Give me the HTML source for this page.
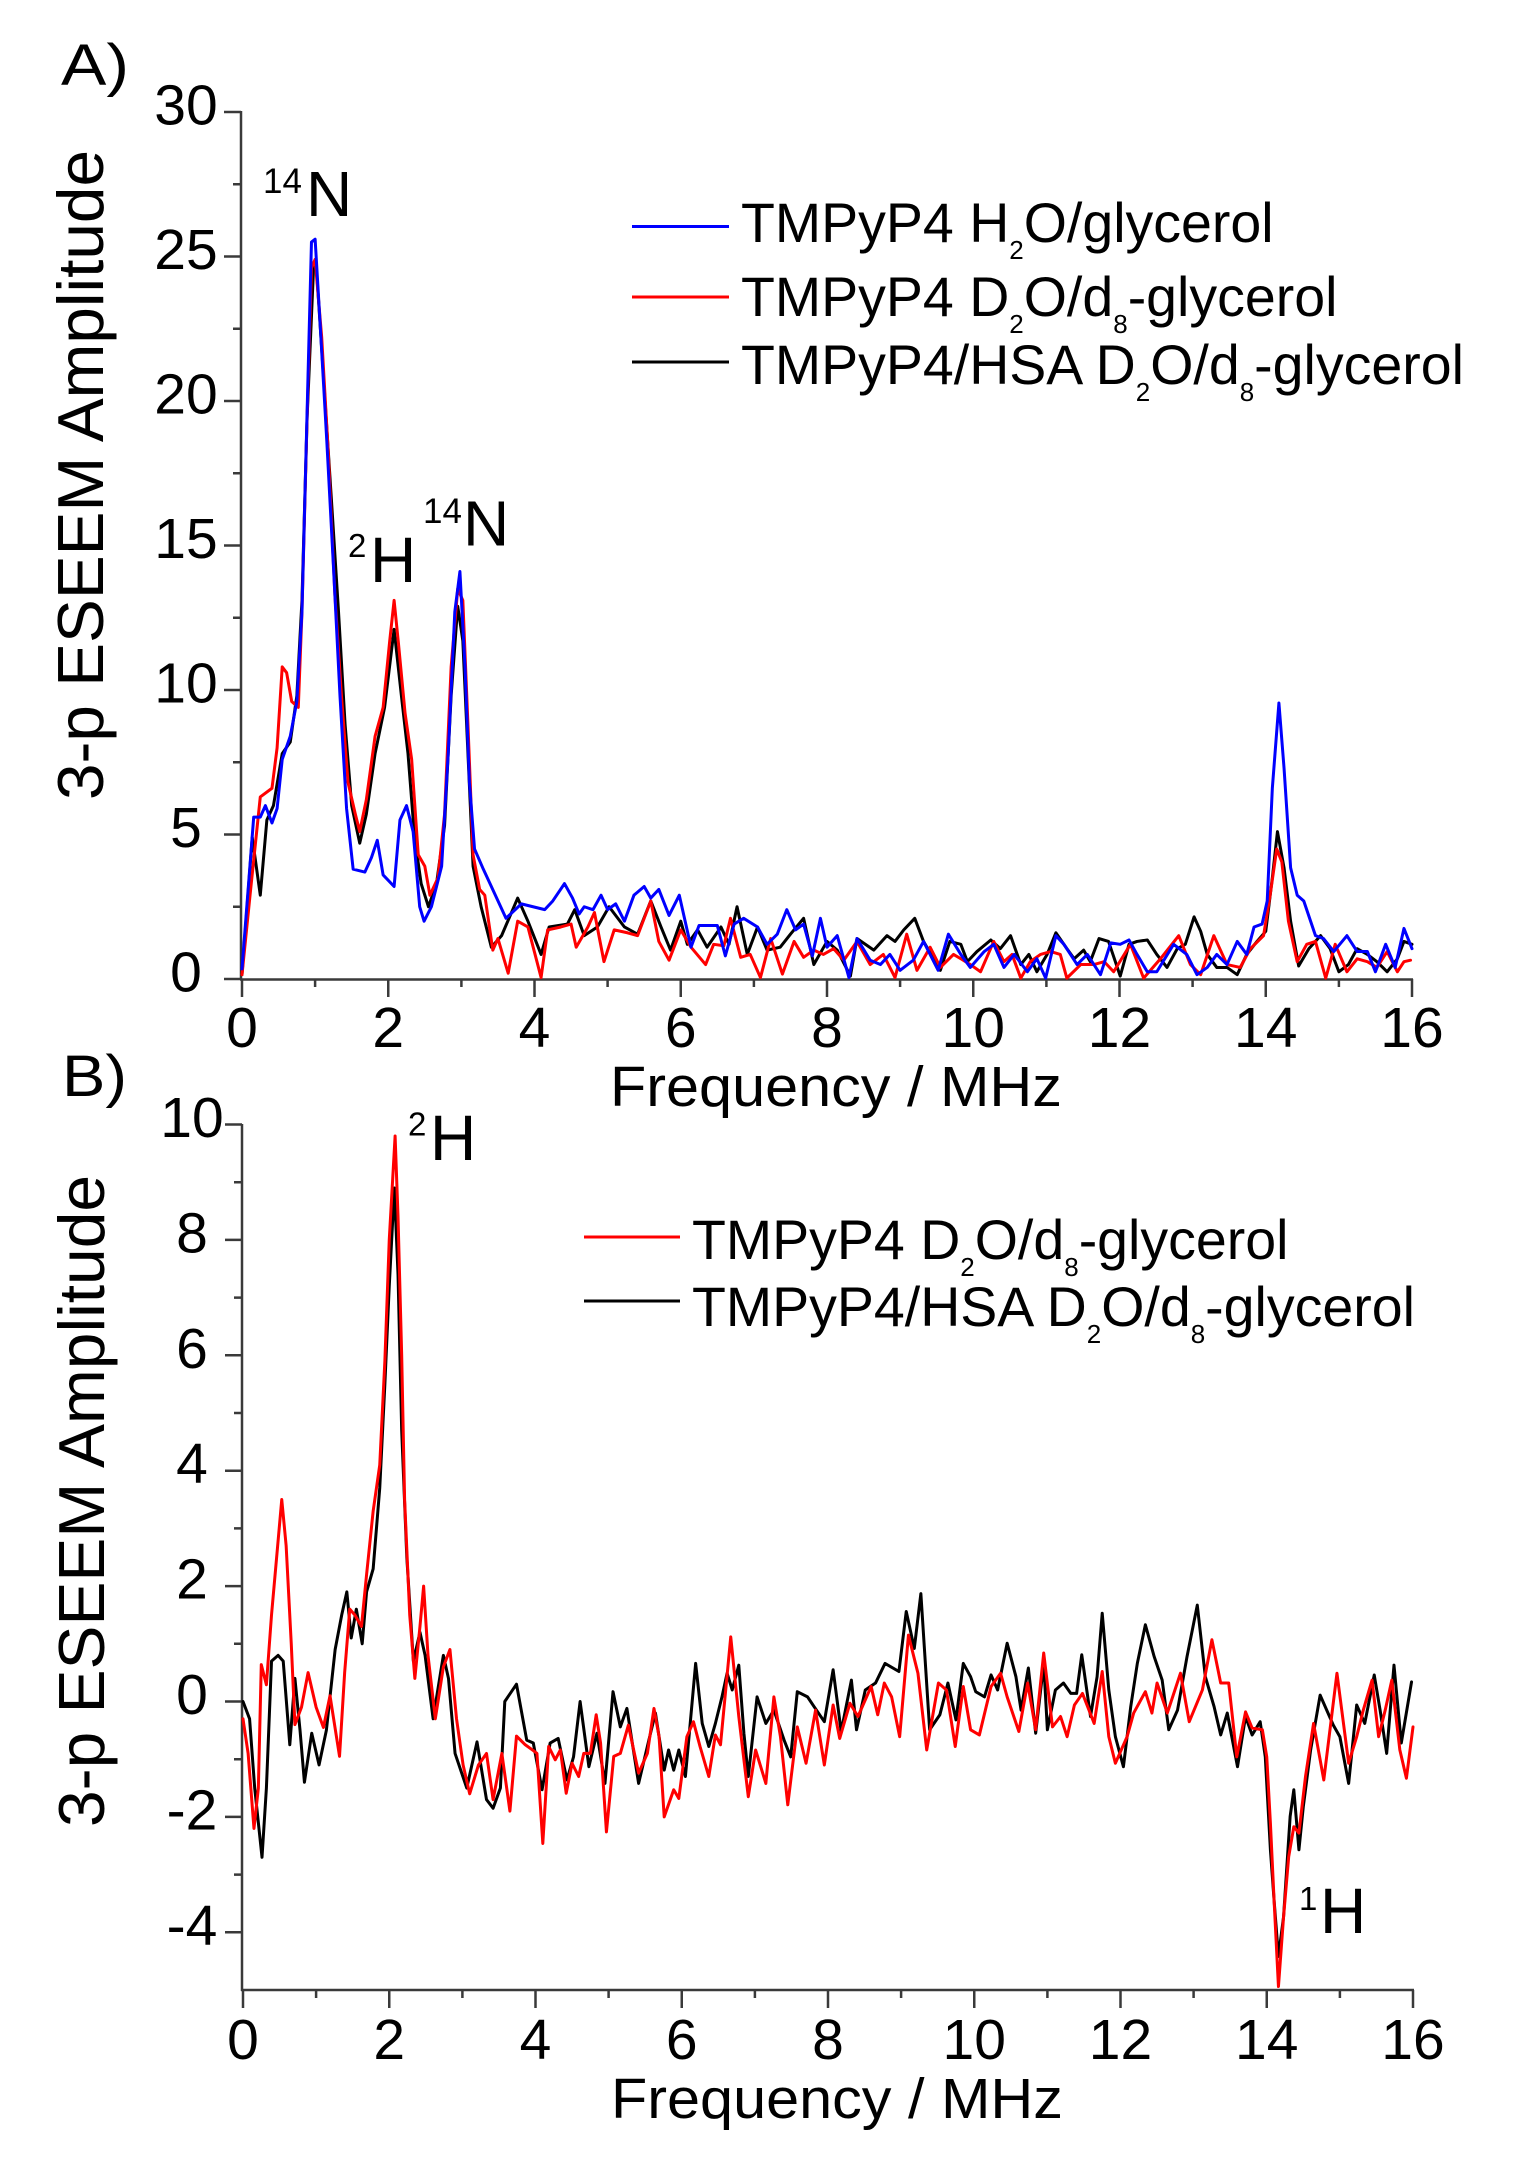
<!DOCTYPE html>
<html>
<head>
<meta charset="utf-8">
<style>
  html,body{margin:0;padding:0;background:#fff;}
  svg{display:block;}
  text{font-family:"Liberation Sans", Arial, sans-serif; fill:#000;}
</style>
</head>
<body>
<svg width="1517" height="2161" viewBox="0 0 1517 2161" xmlns="http://www.w3.org/2000/svg">
<rect width="1517" height="2161" fill="#fff"/>

<!-- ================= PANEL A ================= -->
<text x="61" y="85" font-size="58" textLength="68" lengthAdjust="spacingAndGlyphs">A)</text>

<g stroke="#3a3a3a" stroke-width="2.5" fill="none">
  <path d="M241,111 V980 M240,979.5 H1413"/>
  <path d="M224,979H241 M224,834.5H241 M224,690H241 M224,545.5H241 M224,401H241 M224,256.5H241 M224,112H241"/>
  <path d="M233,906.75H241 M233,762.25H241 M233,617.75H241 M233,473.25H241 M233,328.75H241 M233,184.25H241"/>
  <path d="M242,979V997 M388.25,979V997 M534.5,979V997 M680.75,979V997 M827,979V997 M973.25,979V997 M1119.5,979V997 M1265.75,979V997 M1412,979V997"/>
  <path d="M315.1,979V987 M461.4,979V987 M607.6,979V987 M753.9,979V987 M900.1,979V987 M1046.4,979V987 M1192.6,979V987 M1338.9,979V987"/>
</g>

<g font-size="57" text-anchor="middle">
  <text x="186" y="991.5">0</text>
  <text x="186" y="847">5</text>
  <text x="186" y="702.5">10</text>
  <text x="186" y="558">15</text>
  <text x="186" y="413.5">20</text>
  <text x="186" y="269">25</text>
  <text x="186" y="124.5">30</text>
</g>
<g font-size="57" text-anchor="middle">
  <text x="242" y="1047">0</text>
  <text x="388.25" y="1047">2</text>
  <text x="534.5" y="1047">4</text>
  <text x="680.75" y="1047">6</text>
  <text x="827" y="1047">8</text>
  <text x="973.25" y="1047">10</text>
  <text x="1119.5" y="1047">12</text>
  <text x="1265.75" y="1047">14</text>
  <text x="1412" y="1047">16</text>
</g>
<text x="610" y="1106" font-size="57" textLength="452" lengthAdjust="spacingAndGlyphs">Frequency / MHz</text>
<text transform="translate(103,475) rotate(-90)" font-size="65" text-anchor="middle" textLength="650" lengthAdjust="spacingAndGlyphs">3-p ESEEM Amplitude</text>

<g transform="translate(242,979) scale(73.125,-28.9)" fill="none" stroke-width="3" stroke-linejoin="round" stroke-linecap="round">
<polyline vector-effect="non-scaling-stroke" stroke="#000000" points="0,0.15 0.14,4.9 0.25,2.9 0.34,5.5 0.43,6 0.55,7.8 0.66,8.2 0.75,9.8 0.82,13.1 0.89,19.4 0.98,24.7 1.02,24.5 1.09,21.8 1.23,16.3 1.32,12.7 1.41,8.8 1.5,6 1.61,4.7 1.7,5.7 1.82,7.8 1.95,9.4 2.08,12.1 2.18,9.8 2.27,7.8 2.36,4.9 2.45,3.3 2.55,2.5 2.66,3.3 2.77,5.3 2.86,9.8 2.95,12.9 3.02,11.7 3.09,7.8 3.16,3.9 3.27,2.5 3.41,1.1 3.55,1.5 3.77,2.8 3.91,2 4.09,0.85 4.2,1.8 4.45,1.9 4.55,2.4 4.68,1.5 4.86,1.8 5.02,2.5 5.23,1.8 5.41,1.55 5.59,2.7 5.73,1.8 5.86,1 6,2 6.09,1.2 6.23,1.7 6.36,1.1 6.55,1.8 6.66,1.2 6.77,2.5 6.91,0.85 7.05,1.8 7.18,1 7.36,1.1 7.5,1.55 7.68,2.1 7.82,0.5 8,1.3 8.14,1 8.32,0.1 8.41,1.4 8.64,1 8.82,1.5 8.93,1.3 9.05,1.7 9.2,2.1 9.32,1.3 9.55,0.3 9.68,1.3 9.83,1.2 9.92,0.6 10.05,0.95 10.24,1.35 10.37,1.05 10.51,1.5 10.65,0.5 10.76,0.85 10.87,0.25 11.01,0.85 11.13,1.6 11.28,1.05 11.38,0.7 11.51,1 11.6,0.6 11.72,1.4 11.85,1.3 12.01,0.1 12.13,1.2 12.24,1.3 12.38,1.35 12.51,0.85 12.65,0.4 12.79,1.05 12.9,1.2 13.02,2.15 13.11,1.65 13.2,0.85 13.33,0.4 13.47,0.4 13.61,0.15 13.74,0.85 13.88,1.3 14,1.65 14.09,3.5 14.16,5.1 14.25,3.85 14.34,2 14.45,0.45 14.59,1.05 14.75,1.5 14.88,1.05 15,0.25 15.13,0.5 15.25,1.05 15.39,0.85 15.52,0.6 15.66,0.25 15.8,0.7 15.89,1.3 16,1.2"/>
<polyline vector-effect="non-scaling-stroke" stroke="#ff0000" points="0,0.15 0.11,2.9 0.25,6.3 0.41,6.6 0.48,8 0.55,10.8 0.61,10.6 0.68,9.6 0.77,9.4 0.82,12.7 0.89,19.4 0.95,24.6 1,24.9 1.09,22.2 1.18,18.2 1.27,13.3 1.36,9.8 1.45,6.8 1.55,5.7 1.61,5.1 1.7,6.2 1.82,8.4 1.93,9.4 2.02,11.7 2.08,13.1 2.14,11.6 2.23,9.2 2.32,7.6 2.41,4.3 2.5,3.9 2.57,2.9 2.68,3.5 2.77,5.7 2.86,10.8 2.95,13.5 3.02,13.1 3.09,8.8 3.16,4.3 3.25,3.1 3.32,2.9 3.43,1 3.5,1.4 3.64,0.2 3.77,2 3.91,1.8 4.09,0.05 4.18,1.7 4.36,1.8 4.5,1.9 4.57,1.1 4.73,1.8 4.82,2.3 4.95,0.6 5.09,1.7 5.27,1.6 5.41,1.5 5.59,2.7 5.7,1.3 5.84,0.65 6,1.7 6.14,1.1 6.34,0.5 6.45,1.2 6.59,1.15 6.68,2.1 6.82,0.75 6.95,0.85 7.09,0.05 7.23,1.4 7.39,0.17 7.55,1.3 7.68,0.75 7.82,1 7.95,0.85 8.09,1.05 8.23,0.65 8.41,1.3 8.59,0.5 8.77,0.85 8.93,0.05 9.09,1.55 9.23,0.3 9.41,1.1 9.55,0.4 9.73,0.85 9.83,0.7 9.96,0.5 10.1,0.25 10.28,1.3 10.42,0.6 10.53,0.85 10.65,0.03 10.78,0.6 10.92,0.85 11.06,0.95 11.19,0.85 11.28,0.03 11.47,0.5 11.65,0.5 11.79,0.6 11.92,0.25 12.15,1.2 12.33,0.03 12.56,0.7 12.81,1.5 12.97,0.5 13.11,0.15 13.29,1.5 13.47,0.5 13.65,0.4 13.79,1.05 13.97,1.5 14.06,2.9 14.15,4.5 14.22,4.05 14.31,2 14.43,0.6 14.56,1.2 14.68,1.3 14.82,0.03 14.95,1.2 15.11,0.25 15.25,0.7 15.39,0.6 15.52,0.4 15.66,0.95 15.8,0.25 15.89,0.6 15.98,0.65"/>
<polyline vector-effect="non-scaling-stroke" stroke="#0000ff" points="0,0.35 0.16,5.6 0.25,5.6 0.32,6 0.41,5.4 0.48,5.9 0.55,7.6 0.66,8.4 0.75,9.6 0.82,12.7 0.89,19.6 0.95,25.5 1,25.6 1.07,22.6 1.16,18.6 1.25,14.3 1.34,9.8 1.43,5.9 1.52,3.8 1.68,3.7 1.77,4.2 1.85,4.8 1.93,3.6 2.08,3.2 2.16,5.5 2.25,6 2.34,5.1 2.43,2.5 2.49,2 2.59,2.5 2.73,3.9 2.82,7.8 2.91,12.7 2.98,14.1 3.05,10.8 3.11,6.8 3.18,4.5 3.3,3.8 3.41,3.2 3.61,2.1 3.82,2.6 4.14,2.4 4.25,2.7 4.41,3.3 4.52,2.8 4.61,2.25 4.68,2.5 4.8,2.4 4.91,2.9 5,2.4 5.11,2.6 5.23,2 5.36,2.9 5.5,3.2 5.59,2.8 5.7,3.1 5.84,2.2 5.98,2.9 6.14,1.1 6.25,1.85 6.5,1.85 6.61,0.8 6.73,1.9 6.86,2.1 7.05,1.8 7.18,1.2 7.32,1.55 7.45,2.4 7.57,1.7 7.68,1.9 7.8,0.8 7.91,2.1 8,1.1 8.14,1.5 8.3,0.05 8.41,1.4 8.59,0.65 8.73,0.5 8.86,0.85 9,0.3 9.18,0.65 9.32,1.3 9.52,0.3 9.66,1.55 9.83,0.85 9.96,0.4 10.15,0.95 10.28,1.2 10.42,0.4 10.56,0.85 10.74,0.25 10.87,0.7 10.99,0.03 11.13,1.5 11.24,1.2 11.42,0.5 11.56,0.85 11.74,0.15 11.88,1.25 12.01,1.2 12.13,1.35 12.24,0.85 12.38,0.25 12.51,0.25 12.74,1.2 12.92,0.85 13.06,0.15 13.2,0.4 13.33,0.85 13.47,0.5 13.61,1.3 13.74,0.85 13.84,1.8 13.95,1.9 14.02,2.7 14.09,6.6 14.18,9.55 14.25,7.3 14.34,3.85 14.43,2.9 14.52,2.7 14.68,1.5 14.79,1.4 14.93,0.95 15.11,1.5 15.25,0.95 15.39,0.95 15.5,0.25 15.64,1.2 15.77,0.4 15.89,1.75 16,1.05"/>
</g>

<text x="263" y="193" font-size="35">14</text>
<text x="306" y="216" font-size="64">N</text>
<text x="348" y="557" font-size="33">2</text>
<text x="370" y="582" font-size="64">H</text>
<text x="423" y="523" font-size="35">14</text>
<text x="463" y="545.5" font-size="64">N</text>

<g stroke-width="3">
  <line x1="632" y1="226.5" x2="729" y2="226.5" stroke="#0000ff"/>
  <line x1="632" y1="297" x2="729" y2="297" stroke="#ff0000"/>
  <line x1="632" y1="362" x2="729" y2="362" stroke="#000000"/>
</g>
<text x="741" y="242" font-size="55.5">TMPyP4 H<tspan font-size="26" dy="17">2</tspan><tspan dy="-17">O/glycerol</tspan></text>
<text x="741" y="316" font-size="55.5">TMPyP4 D<tspan font-size="26" dy="17">2</tspan><tspan dy="-17">O/d</tspan><tspan font-size="26" dy="17">8</tspan><tspan dy="-17">-glycerol</tspan></text>
<text x="741" y="384" font-size="55.5">TMPyP4/HSA D<tspan font-size="26" dy="17">2</tspan><tspan dy="-17">O/d</tspan><tspan font-size="26" dy="17">8</tspan><tspan dy="-17">-glycerol</tspan></text>

<!-- ================= PANEL B ================= -->
<text x="62" y="1096" font-size="58" textLength="65" lengthAdjust="spacingAndGlyphs">B)</text>

<g stroke="#3a3a3a" stroke-width="2.5" fill="none">
  <path d="M242,1124 V1991 M241,1990 H1414"/>
  <path d="M225,1124.5H242 M225,1239.9H242 M225,1355.3H242 M225,1470.7H242 M225,1586.1H242 M225,1701.5H242 M225,1816.9H242 M225,1932.3H242"/>
  <path d="M234,1182.2H242 M234,1297.6H242 M234,1413H242 M234,1528.4H242 M234,1643.8H242 M234,1759.2H242 M234,1874.6H242"/>
  <path d="M243,1990V2008 M389.25,1990V2008 M535.5,1990V2008 M681.75,1990V2008 M828,1990V2008 M974.25,1990V2008 M1120.5,1990V2008 M1266.75,1990V2008 M1413,1990V2008"/>
  <path d="M316.1,1990V1998 M462.4,1990V1998 M608.6,1990V1998 M754.9,1990V1998 M901.1,1990V1998 M1047.4,1990V1998 M1193.6,1990V1998 M1339.9,1990V1998"/>
</g>

<g font-size="57" text-anchor="middle">
  <text x="192" y="1137">10</text>
  <text x="192" y="1252.4">8</text>
  <text x="192" y="1367.8">6</text>
  <text x="192" y="1483.2">4</text>
  <text x="192" y="1598.6">2</text>
  <text x="192" y="1714">0</text>
  <text x="192" y="1829.4">-2</text>
  <text x="192" y="1944.8">-4</text>
</g>
<g font-size="57" text-anchor="middle">
  <text x="243" y="2059">0</text>
  <text x="389.25" y="2059">2</text>
  <text x="535.5" y="2059">4</text>
  <text x="681.75" y="2059">6</text>
  <text x="828" y="2059">8</text>
  <text x="974.25" y="2059">10</text>
  <text x="1120.5" y="2059">12</text>
  <text x="1266.75" y="2059">14</text>
  <text x="1413" y="2059">16</text>
</g>
<text x="611" y="2118" font-size="57" textLength="452" lengthAdjust="spacingAndGlyphs">Frequency / MHz</text>
<text transform="translate(104,1501) rotate(-90)" font-size="65" text-anchor="middle" textLength="652" lengthAdjust="spacingAndGlyphs">3-p ESEEM Amplitude</text>

<g transform="translate(243,1701.5) scale(73.125,-57.7)" fill="none" stroke-width="3" stroke-linejoin="round" stroke-linecap="round">
<polyline vector-effect="non-scaling-stroke" stroke="#000000" points="0,0 0.09,-0.3 0.16,-1.5 0.26,-2.7 0.32,-1.5 0.39,0.7 0.48,0.8 0.55,0.7 0.64,-0.75 0.71,0.4 0.78,-0.5 0.84,-1.4 0.94,-0.55 1.04,-1.1 1.14,-0.5 1.26,0.9 1.35,1.5 1.42,1.9 1.48,1.1 1.55,1.6 1.63,1 1.69,1.9 1.78,2.3 1.87,3.7 1.94,5.5 2,7.2 2.07,8.9 2.12,7.4 2.17,4.7 2.24,2.5 2.33,0.7 2.42,1.2 2.49,0.8 2.6,-0.3 2.74,0.8 2.81,0.4 2.9,-0.9 3.06,-1.5 3.2,-0.7 3.33,-1.7 3.42,-1.85 3.52,-1.5 3.58,0 3.74,0.3 3.88,-0.67 3.97,-0.72 4.09,-1.53 4.2,-0.72 4.31,-0.64 4.43,-1.36 4.52,-0.96 4.61,0 4.73,-1.13 4.84,-0.55 4.95,-1.42 5.06,0.17 5.16,-0.44 5.25,-0.12 5.41,-1.42 5.55,-0.67 5.64,-0.2 5.76,-1.19 5.82,-0.84 5.89,-1.19 5.96,-0.84 6.05,-1.3 6.19,0.66 6.28,-0.38 6.37,-0.78 6.46,-0.38 6.55,0.08 6.62,0.49 6.69,0.2 6.78,0.63 6.85,-0.55 6.91,-1.3 7.03,0.08 7.15,-0.38 7.26,-0.15 7.4,-0.67 7.49,-0.96 7.58,0.17 7.72,0.08 7.81,-0.09 7.95,-0.35 8.07,0.55 8.18,-0.52 8.32,0.37 8.39,-0.49 8.51,0.2 8.65,0.32 8.78,0.66 8.97,0.52 9.07,1.56 9.18,0.92 9.27,1.87 9.39,-0.49 9.53,-0.23 9.64,0.32 9.75,-0.32 9.85,0.66 9.95,0.43 10.02,0.17 10.14,0.08 10.23,0.46 10.32,0.2 10.45,1.01 10.57,0.43 10.64,-0.15 10.74,0.58 10.84,-0.55 10.95,0.66 11,-0.49 11.11,0.2 11.22,0.32 11.32,0.14 11.4,0.14 11.47,0.81 11.59,-0.26 11.68,0.43 11.75,1.53 11.84,0.2 11.93,-0.61 12.04,-1.13 12.14,-0.09 12.23,0.66 12.34,1.33 12.46,0.78 12.57,0.37 12.66,-0.49 12.78,-0.15 12.91,0.78 13.05,1.67 13.16,0.43 13.28,-0.09 13.37,-0.58 13.46,-0.2 13.6,-1.13 13.71,-0.26 13.8,-0.58 13.91,-0.35 13.98,-0.96 14.05,-2.57 14.1,-3.44 14.16,-4.42 14.23,-3.73 14.32,-1.99 14.37,-1.53 14.44,-2.57 14.5,-1.82 14.6,-0.84 14.73,0.11 14.82,-0.15 14.91,-0.41 15,-0.61 15.12,-1.42 15.23,-0.06 15.34,-0.38 15.47,0.46 15.55,-0.15 15.64,-0.9 15.74,0.63 15.84,-0.72 15.98,0.34"/>
<polyline vector-effect="non-scaling-stroke" stroke="#ff0000" points="0,-0.3 0.07,-0.9 0.15,-2.2 0.21,-1.5 0.25,0.64 0.32,0.29 0.39,1.5 0.46,2.5 0.53,3.5 0.59,2.7 0.66,1 0.71,-0.4 0.8,-0.1 0.89,0.5 1,-0.1 1.1,-0.45 1.19,0.1 1.32,-0.95 1.39,0.5 1.46,1.6 1.53,1.5 1.62,1.3 1.69,2.2 1.78,3.3 1.87,4.1 1.94,5.9 2,8 2.08,9.8 2.12,8.4 2.17,6 2.21,3.5 2.28,1.5 2.35,0.4 2.42,1.3 2.47,2 2.53,0.8 2.63,-0.3 2.74,0.6 2.83,0.9 2.92,-0.3 3.01,-1.1 3.1,-1.6 3.22,-1.1 3.33,-0.9 3.42,-1.7 3.54,-0.9 3.65,-1.9 3.74,-0.6 3.86,-0.75 3.97,-0.85 4.02,-0.9 4.1,-2.46 4.18,-0.78 4.27,-1.01 4.34,-0.84 4.42,-1.59 4.5,-1.07 4.59,-1.3 4.66,-0.9 4.75,-0.9 4.83,-0.23 4.89,-0.72 4.97,-2.26 5.07,-0.95 5.16,-0.9 5.27,-0.41 5.41,-1.24 5.53,-0.9 5.62,-0.12 5.69,-0.61 5.76,-2 5.89,-1.53 5.96,-1.68 6.07,-0.61 6.16,-0.35 6.25,-0.78 6.37,-1.3 6.46,-0.58 6.53,-0.75 6.67,1.12 6.78,-0.26 6.91,-1.65 7.01,-0.84 7.15,-1.42 7.26,0.08 7.35,-0.61 7.45,-1.79 7.58,-0.44 7.7,-1.07 7.83,-0.15 7.95,-1.1 8.07,-0.06 8.16,-0.64 8.3,-0.03 8.41,-0.26 8.59,0.26 8.68,-0.23 8.77,0.32 8.87,0.08 8.98,-0.61 9.1,1.15 9.23,0.49 9.35,-0.84 9.51,0.32 9.62,0.2 9.74,-0.78 9.85,0.26 9.95,-0.49 10.07,-0.58 10.23,0.26 10.36,0.49 10.45,0.08 10.61,-0.52 10.73,0.32 10.84,-0.49 10.95,0.84 11.07,-0.44 11.18,-0.26 11.27,-0.61 11.37,-0.06 11.48,0.14 11.64,-0.38 11.75,0.52 11.84,-0.61 11.93,-1.07 12.09,-0.61 12.18,-0.2 12.34,0.17 12.43,-0.2 12.5,0.32 12.64,-0.2 12.82,0.49 12.94,-0.35 13.12,0.2 13.25,1.07 13.37,0.32 13.48,0.32 13.59,-0.96 13.71,-0.18 13.8,-0.46 13.94,-0.49 14,-0.96 14.05,-2.11 14.1,-3.44 14.16,-4.94 14.23,-3.73 14.3,-2.69 14.37,-2.17 14.44,-2.28 14.53,-1.3 14.64,-0.38 14.78,-1.36 14.96,0.49 15.12,-1.07 15.23,-0.61 15.32,-0.15 15.44,0.37 15.53,-0.61 15.62,-0.15 15.71,0.37 15.82,-0.84 15.91,-1.33 16,-0.44"/>
</g>

<text x="408" y="1135.6" font-size="33">2</text>
<text x="430" y="1160" font-size="64">H</text>
<text x="1299" y="1910" font-size="33">1</text>
<text x="1320" y="1933" font-size="64">H</text>

<g stroke-width="3">
  <line x1="584" y1="1237" x2="680" y2="1237" stroke="#ff0000"/>
  <line x1="584" y1="1301" x2="680" y2="1301" stroke="#000000"/>
</g>
<text x="692" y="1259" font-size="55.5">TMPyP4 D<tspan font-size="26" dy="17">2</tspan><tspan dy="-17">O/d</tspan><tspan font-size="26" dy="17">8</tspan><tspan dy="-17">-glycerol</tspan></text>
<text x="692" y="1326" font-size="55.5">TMPyP4/HSA D<tspan font-size="26" dy="17">2</tspan><tspan dy="-17">O/d</tspan><tspan font-size="26" dy="17">8</tspan><tspan dy="-17">-glycerol</tspan></text>

</svg>
</body>
</html>
